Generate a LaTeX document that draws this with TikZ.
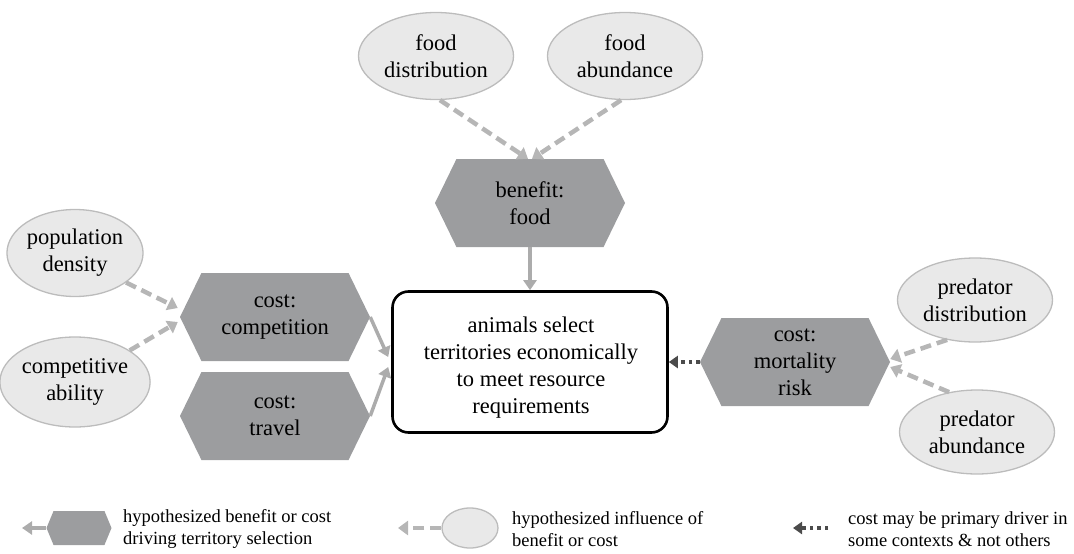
\documentclass[tikz,border=0pt]{standalone}
\usepackage{fontspec}
\setmainfont{Liberation Serif}
\usetikzlibrary{shapes.geometric,shapes.symbols,arrows.meta,calc}
\definecolor{hexgray}{RGB}{156,157,159}
\definecolor{ellfill}{RGB}{233,233,233}
\definecolor{elldraw}{RGB}{188,188,188}
\definecolor{arrgray}{RGB}{172,172,172}
\definecolor{dashgray}{RGB}{182,182,182}
\definecolor{dotgray}{RGB}{75,75,75}
\begin{document}
\begin{tikzpicture}[x=1pt,y=-1pt,
 mainfont/.style={font=\fontsize{22.5}{27}\selectfont},
 hexbox/.style={signal, signal to=east and west, signal pointer angle=128, fill=hexgray, draw=none,
   minimum width=190pt, minimum height=88pt, inner sep=0pt, align=center, mainfont},
 ell/.style={ellipse, fill=ellfill, draw=elldraw, line width=1.3pt, minimum width=155pt,
   minimum height=87pt, inner sep=0pt, align=center, mainfont},
 mainbox/.style={rectangle, rounded corners=16pt, draw=black, line width=2.6pt, fill=white,
   minimum width=275pt, minimum height=141pt},
 solidarr/.style={draw=arrgray, line width=3.5pt, -{Triangle[length=10pt,width=13pt]}},
 dasharr/.style={draw=dashgray, line width=4.5pt, dash pattern=on 11pt off 6pt, -{Triangle[length=10pt,width=14pt]}},
 dotarr/.style={draw=dotgray, line width=4pt, dash pattern=on 3.5pt off 4pt, -{Triangle[length=9pt,width=12pt]}},
 legtext/.style={align=left, anchor=west, font=\fontsize{18.5}{22}\selectfont, inner sep=0pt}
]
\useasboundingbox (0,0) rectangle (1074,554);

% main box
\node[mainbox] (box) at (530,362) {};
\node[mainfont, align=center, inner sep=0pt] (boxtext) at (531,368) {animals select\\territories economically\\to meet resource\\requirements};

% hexagons
\node[hexbox] (bf) at (530,203) {benefit:\\food};
\node[hexbox] (comp) at (275,317) {cost:\\competition};
\node[hexbox] (trav) at (275,416) {cost:\\travel};
\node[hexbox] (mort) at (795,362) {cost:\\mortality\\risk};

% ellipses
\node[ell] (fd) at (436,56) {food\\distribution};
\node[ell] (fa) at (625,56) {food\\abundance};
\node[ell, minimum width=125pt] (pd) at (75,253) {population\\density};
\node[ell, minimum width=125pt, minimum height=90pt] (ca) at (75,382) {competitive\\ability};
\node[ell, minimum height=84pt] (prd) at (975,300) {predator\\distribution};
\node[ell, minimum height=84pt] (pra) at (977,432) {predator\\abundance};

% connectors
\draw[solidarr] (bf.south) -- (box.north);
\draw[solidarr] (comp.east) -- ($(box.west)+(-3,-5)$);
\draw[solidarr] (trav.east) -- ($(box.west)+(-3,5)$);
\draw[dotarr] (mort.west) -- (box.east);

\draw[dasharr] (fd.-85) -- ($(bf.north)+(-2,0)$);
\draw[dasharr] (fa.-95) -- ($(bf.north)+(2,0)$);
\draw[dasharr] (pd.-30) -- ($(comp.west)+(-2,-9)$);
\draw[dasharr] (ca.30) -- ($(comp.west)+(-2,5)$);
\draw[dasharr] (prd.-125) -- ($(mort.east)+(0,-3)$);
\draw[dasharr] (pra.125) -- ($(mort.east)+(0,5)$);

% legend
\node[signal, signal to=east and west, signal pointer angle=135, fill=hexgray, draw=none,
   minimum width=65pt, minimum height=34pt, inner sep=0pt] (lhex) at (79,528) {};
\coordinate (lhexend) at (22,528);
\draw[solidarr] (lhex.west) -- (lhexend);
\node[legtext] (lt1) at (123,529) {hypothesized benefit or cost\\driving territory selection};

\node[ellipse, fill=ellfill, draw=elldraw, line width=1.3pt, minimum width=56pt, minimum height=40pt, inner sep=0pt] (lell) at (470,528) {};
\coordinate (lellend) at (398,528);
\draw[dasharr] (lell.west) -- (lellend);
\node[legtext] (lt2) at (512,529) {hypothesized influence of\\benefit or cost};

\coordinate (ldotstart) at (828,528);
\coordinate (ldotend) at (793,528);
\draw[dotarr] (ldotstart) -- (ldotend);
\node[legtext] (lt3) at (848,529) {cost may be primary driver in\\some contexts \& not others};
\end{tikzpicture}
\end{document}
